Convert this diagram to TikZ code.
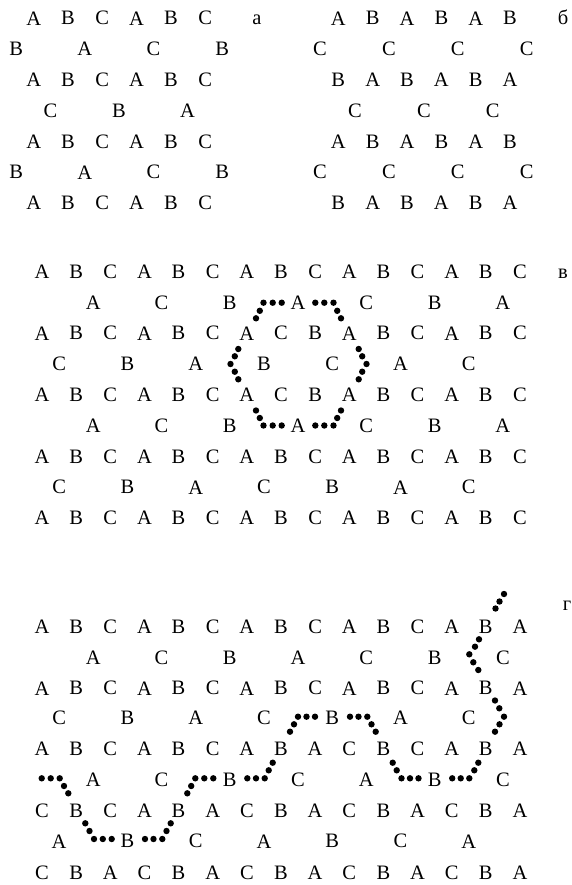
\documentclass[tikz,border=0pt]{standalone}
\usepackage{fontspec}
\setmainfont{Liberation Serif}
\newcommand\lrow[5]{%
  \foreach \l [count=\i from 0] in {#5}
    \node[lt] (#1-\i) at ({#3+\i*#4},{#2}) {\l};}
\newcommand\dotset[1]{%
  \foreach \p in {#1} \fill[dotc] \p circle (3.2);}
\begin{document}
\begin{tikzpicture}[x=1pt,y=-1pt,
  lt/.style={anchor=center,inner sep=0pt,font=\fontsize{20.5}{24}\selectfont},
  lab/.style={anchor=base,inner sep=0pt,font=\fontsize{20.5}{24}\selectfont},
  dotc/.style={black}]
\useasboundingbox[fill=white] (0,0) rectangle (571,885);
% ---------- panel a ----------
\lrow{a1}{18.3}{33.7}{34.3}{A,B,C,A,B,C}
\lrow{a2}{49.1}{16.3}{68.6}{B,A,C,B}
\lrow{a3}{79.9}{33.7}{34.3}{A,B,C,A,B,C}
\lrow{a4}{110.7}{50.5}{68.5}{C,B,A}
\lrow{a5}{141.5}{33.7}{34.3}{A,B,C,A,B,C}
\lrow{a6}{172.3}{16.3}{68.6}{B,A,C,B}
\lrow{a7}{203.1}{33.7}{34.3}{A,B,C,A,B,C}
\node[lab] (la) at (257,25) {а};
% ---------- panel b ----------
\lrow{b1}{18.3}{338.3}{34.35}{A,B,A,B,A,B}
\lrow{b2}{49.1}{320}{68.9}{C,C,C,C}
\lrow{b3}{79.9}{338.3}{34.35}{B,A,B,A,B,A}
\lrow{b4}{110.7}{355}{68.9}{C,C,C}
\lrow{b5}{141.5}{338.3}{34.35}{A,B,A,B,A,B}
\lrow{b6}{172.3}{320}{68.9}{C,C,C,C}
\lrow{b7}{203.1}{338.3}{34.35}{B,A,B,A,B,A}
\node[lab] (lb) at (563,25) {б};
% ---------- panel v ----------
\lrow{v1}{271.7}{42}{34.14}{A,B,C,A,B,C,A,B,C,A,B,C,A,B,C}
\lrow{v2}{302.5}{93.2}{68.28}{A,C,B,A,C,B,A}
\lrow{v3}{333.3}{42}{34.14}{A,B,C,A,B,C,A,C,B,A,B,C,A,B,C}
\lrow{v4}{364.1}{59.1}{68.28}{C,B,A,B,C,A,C}
\lrow{v5}{394.9}{42}{34.14}{A,B,C,A,B,C,A,C,B,A,B,C,A,B,C}
\lrow{v6}{425.7}{93.2}{68.28}{A,C,B,A,C,B,A}
\lrow{v7}{456.5}{42}{34.14}{A,B,C,A,B,C,A,B,C,A,B,C,A,B,C}
\lrow{v8}{487.3}{59.1}{68.28}{C,B,A,C,B,A,C}
\lrow{v9}{518.1}{42}{34.14}{A,B,C,A,B,C,A,B,C,A,B,C,A,B,C}
\node[lab] (lv) at (563,278) {в};
\dotset{(281.7,302.7),(272.7,302.7),(263.5,302.7),(259.8,310.8),(256,318.3),
  (238.3,349),(234.8,356.3),(230.5,364),(234.8,371.7),(238.3,379.3),
  (256,410.5),(259.8,418),(263.5,425.5),(272.7,425.5),(281.7,425.5),
  (315.3,302.7),(324.3,302.7),(333.5,302.7),(337.2,310.8),(341,318.3),
  (358.7,349),(362.2,356.3),(366.5,364),(362.2,371.7),(358.7,379.3),
  (341,410.5),(337.2,418),(333.5,425.5),(324.3,425.5),(315.3,425.5)}
% ---------- panel g ----------
\lrow{g1}{626.7}{42}{34.14}{A,B,C,A,B,C,A,B,C,A,B,C,A,B,A}
\lrow{g2}{657.5}{93.2}{68.28}{A,C,B,A,C,B,C}
\lrow{g3}{688.3}{42}{34.14}{A,B,C,A,B,C,A,B,C,A,B,C,A,B,A}
\lrow{g4}{718.1}{59.1}{68.28}{C,B,A,C,B,A,C}
\lrow{g5}{748.9}{42}{34.14}{A,B,C,A,B,C,A,B,A,C,B,C,A,B,A}
\lrow{g6}{779.7}{93.2}{68.28}{A,C,B,C,A,B,C}
\lrow{g7}{810.5}{42}{34.14}{C,B,C,A,B,A,C,B,A,C,B,A,C,B,A}
\lrow{g8}{841.3}{59.1}{68.28}{A,B,C,A,B,C,A}
\lrow{g9}{872.5}{42}{34.14}{C,B,A,C,B,A,C,B,A,C,B,A,C,B,A}
\node[lab] (lg) at (567,610) {г};
\dotset{(504,594),(499.5,601.5),(495.5,608.5),
  (479,639.3),(475,646.7),(469.3,654.3),(473.3,662.3),(478.3,670),
  (495,700.5),(499.3,708.3),(504,716.7),(499.5,724.3),(495,731.7),
  (478.3,762.7),(474.3,770.3),(469.3,778.3),(460.7,778.3),(452.2,778.3),
  (418.5,778.3),(410,778.3),(401.5,778.3),(396.7,770.3),(392.7,762.7),
  (375.7,731.7),(371.5,724.3),(367.3,716.7),(358.5,716.7),(350,716.7),
  (315,716.7),(306.5,716.7),(298,716.7),(294,724.3),(290,731.7),
  (272.7,762.7),(268.7,770.3),(264.7,778.3),(256,778.3),(247.3,778.3),
  (213.3,778.3),(204.3,778.3),(195.3,778.3),(191.2,786),(187.3,793.3),
  (170.7,823.3),(166.5,831),(162.3,839),(153.5,839),(145,839),
  (111.7,839),(102.8,839),(94,839),(89.5,831),(85.3,823.3),
  (68.3,793.3),(64,786),(59.7,778.3),(50.7,778.3),(41.7,778.3)}
\end{tikzpicture}
\end{document}
